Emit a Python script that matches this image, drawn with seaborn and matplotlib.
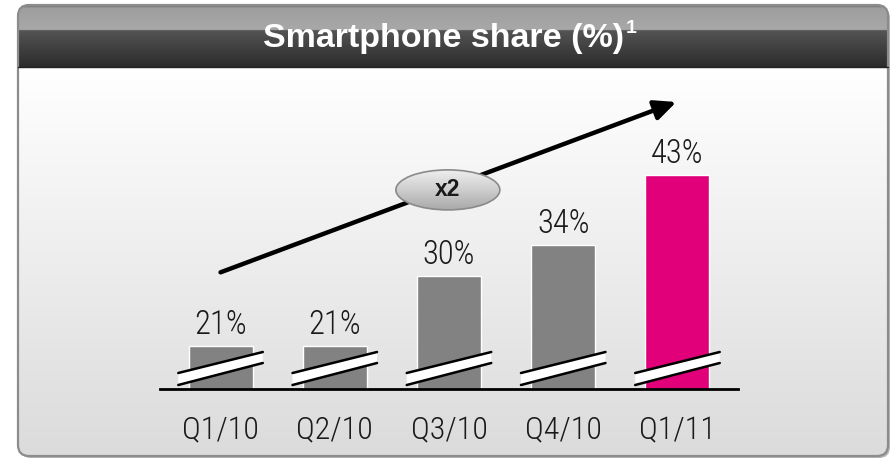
import numpy as np
import matplotlib
matplotlib.use("Agg")
import matplotlib.pyplot as plt
import seaborn as sns
from matplotlib.patches import FancyBboxPatch, Ellipse, Polygon
from matplotlib.colors import LinearSegmentedColormap

# Daten
quarters = ["Q1/10", "Q2/10", "Q3/10", "Q4/10", "Q1/11"]
share = [21, 21, 30, 34, 43]
bar_colors = ["#828282", "#828282", "#828282", "#828282", "#e2007a"]
title = "Smartphone share (%)"
footnote = "1"
growth_label = "x2"

sns.set_style("white")
plt.rcParams["font.family"] = ["Roboto Condensed", "DejaVu Sans"]
title_font = ["Liberation Sans", "DejaVu Sans"]

W, H = 893, 459
fig = plt.figure(figsize=(W / 100, H / 100), dpi=100)
fig.patch.set_facecolor("white")

# Hintergrund in Pixelkoordinaten
bg = fig.add_axes([0, 0, 1, 1])
bg.set_xlim(0, W)
bg.set_ylim(H, 0)
bg.axis("off")

fx0, fx1, fy0, fy1 = 18, 888, 5, 456
header_bottom = 67

shadow = FancyBboxPatch((fx0 + 2, fy0 + 2), fx1 - fx0, fy1 - fy0,
                        boxstyle="round,pad=0,rounding_size=11",
                        facecolor="#b5b5b5", edgecolor="none", zorder=0)
bg.add_patch(shadow)
frame = FancyBboxPatch((fx0, fy0), fx1 - fx0, fy1 - fy0,
                       boxstyle="round,pad=0,rounding_size=11",
                       facecolor="none", edgecolor="none", zorder=1)
bg.add_patch(frame)

# Kopfzeile mit Verlauf
n = 200
yy = np.linspace(fy0, header_bottom, n)
split = 30
top = np.interp(yy, [fy0, fy0 + 3, split], [0.40, 0.62, 0.66])
low = np.interp(yy, [split, header_bottom], [0.33, 0.17])
head_col = np.where(yy < split, top, low)
img = np.repeat(head_col[:, None], 2, axis=1)
im = bg.imshow(np.dstack([img, img, img]), extent=(fx0, fx1, header_bottom, fy0),
               origin="upper", aspect="auto", zorder=1, interpolation="bilinear")
im.set_clip_path(frame)

# Koerper mit Verlauf
yy2 = np.linspace(0, 1, n)
body_col = np.interp(yy2, [0, 1], [1.0, 0.86])
img2 = np.repeat(body_col[:, None], 2, axis=1)
im2 = bg.imshow(np.dstack([img2, img2, img2]), extent=(fx0, fx1, fy1, header_bottom),
                origin="upper", aspect="auto", zorder=1, interpolation="bilinear")
im2.set_clip_path(frame)

outline = FancyBboxPatch((fx0, fy0), fx1 - fx0, fy1 - fy0,
                         boxstyle="round,pad=0,rounding_size=11",
                         facecolor="none", edgecolor="#8c8c8c", lw=1.6, zorder=2)
bg.add_patch(outline)
bg.plot([fx0, fx1], [header_bottom, header_bottom], color="#222222", lw=1, zorder=2)

t = bg.text(444, 47, title, color="white", fontsize=24.5, fontweight="bold",
            family=title_font, ha="center", va="baseline", zorder=3)
fig.canvas.draw()
bb = t.get_window_extent()
bg.text(bb.x1 + 1, 20, footnote, color="white", fontsize=14, fontweight="bold",
        family=title_font, ha="left", va="top", zorder=3)

# Balkendiagramm
base_px, top_px = 389, 75
ymin = 15.5
ppu = 70 / 9  # Pixel pro Prozentpunkt
ymax = ymin + (base_px - top_px) / ppu
ax = fig.add_axes([160 / W, (H - base_px) / H, 578 / W, (base_px - top_px) / H])
ax.patch.set_alpha(0)

sns.barplot(x=quarters, y=share, hue=quarters, palette=bar_colors, legend=False,
            width=0.56, saturation=1, ax=ax, zorder=2)
ax.set_xlim(-0.53, len(quarters) - 1 + 0.53)
ax.set_ylim(ymin, ymax)
ax.set_yticks([])
ax.set_xlabel("")
ax.set_ylabel("")
for s in ["left", "right", "top"]:
    ax.spines[s].set_visible(False)
ax.spines["bottom"].set_color("black")
ax.spines["bottom"].set_linewidth(2)
ax.tick_params(axis="x", length=0, pad=20, labelsize=23, labelcolor="#1a1a1a")
for lab in ax.get_xticklabels():
    lab.set_fontweight("light")

for c in ax.containers:
    ax.bar_label(c, fmt="%d%%", padding=4, fontsize=23.5, fontweight="light",
                 color="#1a1a1a")

# Achsenbruch-Markierungen
for i in range(len(quarters)):
    xl, xr = i - 0.37, i + 0.37
    lb, lt = ymin + 4 / ppu, ymin + 16 / ppu
    rb, rt = ymin + 26 / ppu, ymin + 37 / ppu
    ax.add_patch(Polygon([(xl, lb), (xl, lt), (xr, rt), (xr, rb)], closed=True,
                         facecolor="white", edgecolor="none", zorder=3, clip_on=False))
    ax.plot([xl, xr], [lb, rb], color="black", lw=1.8, zorder=4, clip_on=False)
    ax.plot([xl, xr], [lt, rt], color="black", lw=1.8, zorder=4, clip_on=False)

# Wachstumspfeil
ax.annotate("", xy=(3.99, 52.4), xytext=(0, 30.5),
            arrowprops=dict(arrowstyle="-|>,head_length=1.3,head_width=0.6",
                            lw=3.2, color="black", shrinkA=0, shrinkB=0),
            zorder=5)

ex, ey = 1.99, 41.1
ew, eh = 104 / 114.25, 40 / ppu
ell = Ellipse((ex, ey), ew, eh, facecolor="none", edgecolor="#8a8a8a", lw=1.2, zorder=7)
ax.add_patch(ell)
cm = LinearSegmentedColormap.from_list("g", ["#eeeeee", "#cdcdcd", "#a9a9a9"])
grad = np.linspace(0, 1, 100)[:, None]
eim = ax.imshow(grad, cmap=cm, extent=(ex - ew / 2, ex + ew / 2, ey - eh / 2, ey + eh / 2),
                origin="upper", aspect="auto", zorder=6)
eim.set_clip_path(ell)
ax.text(ex, ey, growth_label, ha="center", va="center", fontsize=16.5,
        fontweight="bold", family=title_font, color="#1a1a1a", zorder=8)
ax.set_xlim(-0.53, len(quarters) - 1 + 0.53)
ax.set_ylim(ymin, ymax)

fig.savefig("out.png", dpi=100)
